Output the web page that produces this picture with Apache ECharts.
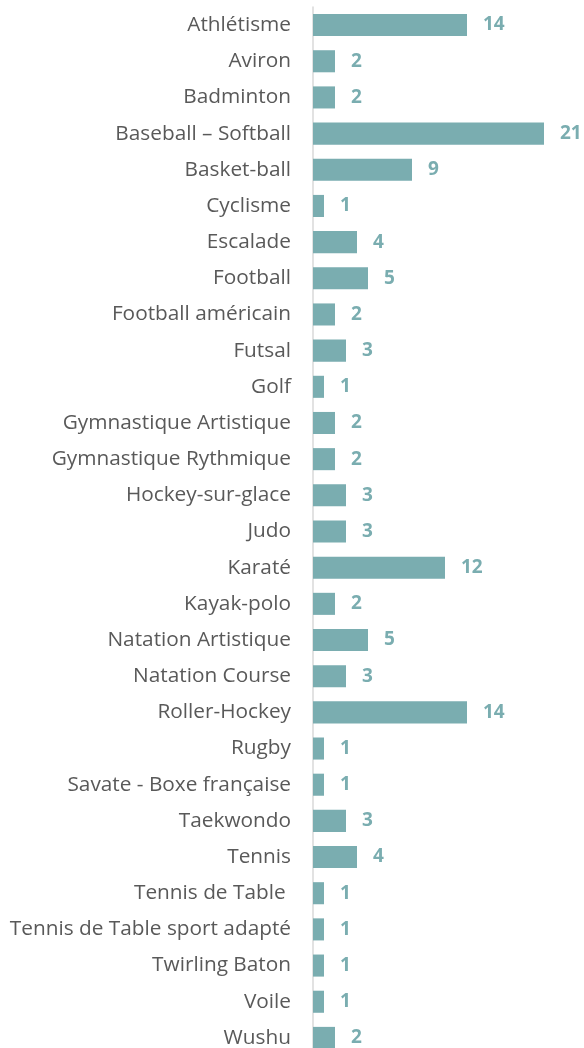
<!DOCTYPE html>
<html>
<head>
<meta charset="utf-8">
<script src="https://cdn.jsdelivr.net/npm/echarts@6/dist/echarts.min.js"></script>
<style>
  html, body { margin: 0; padding: 0; background: #fff; overflow: hidden; }
  #chart { width: 584px; height: 1056px; }
</style>
</head>
<body>
<div id="chart"></div>
<script>
var sports = [
    "Athlétisme", "Aviron", "Badminton", "Baseball – Softball", "Basket-ball",
    "Cyclisme", "Escalade", "Football", "Football américain", "Futsal",
    "Golf", "Gymnastique Artistique", "Gymnastique Rythmique", "Hockey-sur-glace", "Judo",
    "Karaté", "Kayak-polo", "Natation Artistique", "Natation Course", "Roller-Hockey",
    "Rugby", "Savate - Boxe française", "Taekwondo", "Tennis", "Tennis de Table ",
    "Tennis de Table sport adapté", "Twirling Baton", "Voile", "Wushu"
];
var counts = [
    14, 2, 2, 21, 9,
    1, 4, 5, 2, 3,
    1, 2, 2, 3, 3,
    12, 2, 5, 3, 14,
    1, 1, 3, 4, 1,
    1, 1, 1, 2
];

var chart = echarts.init(document.getElementById('chart'));
var option = {
    animation: false,
    grid: {
        left: 313,
        top: 7,
        width: 264,
        bottom: 0,
        containLabel: false
    },
    xAxis: {
        type: 'value',
        min: 0,
        max: 24,
        show: false
    },
    yAxis: {
        type: 'category',
        data: sports,
        inverse: true,
        axisLine: { show: true, lineStyle: { color: '#d9d9d9', width: 1.5 } },
        axisTick: { show: false },
        axisLabel: {
            color: '#595959',
            fontFamily: 'Open Sans',
            fontSize: 20.8,
            margin: 22
        }
    },
    series: [{
        type: 'bar',
        data: counts,
        barCategoryGap: '39%',
        itemStyle: { color: '#7aadb0' },
        label: {
            show: true,
            position: 'right',
            distance: 16,
            color: '#7aadb0',
            fontFamily: 'Open Sans',
            fontWeight: 'bold',
            fontSize: 19
        }
    }]
};
chart.setOption(option);
</script>
</body>
</html>
